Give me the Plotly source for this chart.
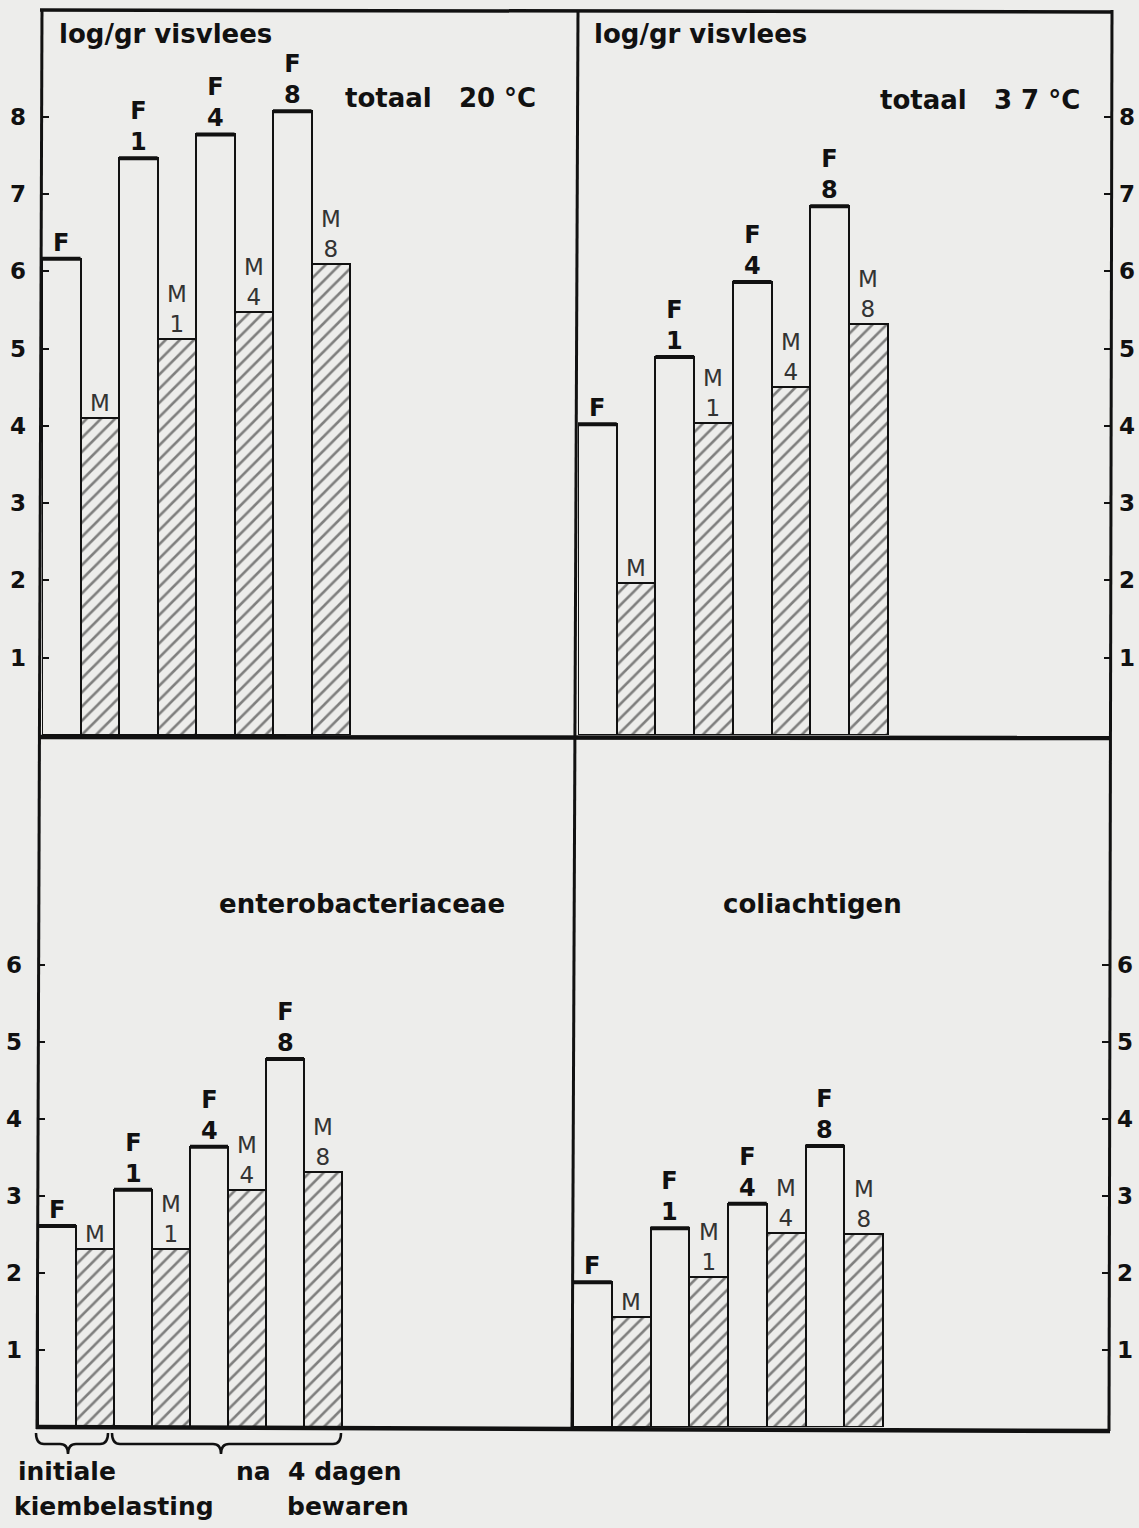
import plotly.graph_objects as go

# ---------------- data ----------------
bar_groups = ["F", "M", "F1", "M1", "F4", "M4", "F8", "M8"]
bar_labels = ["F", "M", "F<br>1", "M<br>1", "F<br>4", "M<br>4", "F<br>8", "M<br>8"]
totaal_20 = [6.16, 4.10, 7.46, 5.12, 7.77, 5.47, 8.07, 6.09]
totaal_37 = [4.02, 1.97, 4.89, 4.04, 5.86, 4.50, 6.84, 5.32]
enterobacteriaceae = [2.61, 2.31, 3.08, 2.31, 3.64, 3.08, 4.78, 3.31]
coliachtigen = [1.88, 1.43, 2.58, 1.95, 2.90, 2.52, 3.65, 2.51]
ticks_top = [1, 2, 3, 4, 5, 6, 7, 8]
ticks_bottom = [1, 2, 3, 4, 5, 6]
panel_titles = ["totaal   20 \u00b0C", "totaal   3 7 \u00b0C", "enterobacteriaceae", "coliachtigen"]
y_unit = "log/gr visvlees"

# ---------------- layout constants (pixels) ----------------
W, H = 1139, 1528
PAPER = "#ededeb"
INK = "#111111"
FONT = "DejaVu Sans"
PX_PER_UNIT_TOP = 77.3
PX_PER_UNIT_BOT = 77.0

def px(x):
    return x / W

def py(y):
    return 1 - y / H

panels = [
    # (values, x0, x1, ybottom, ytop, px per bar, px per unit, ticks, side)
    (totaal_20, 42, 578, 735, 11, 38.5, PX_PER_UNIT_TOP, ticks_top, "left"),
    (totaal_37, 578, 1111, 735, 11, 38.7, PX_PER_UNIT_TOP, ticks_top, "right"),
    (enterobacteriaceae, 38, 573, 1427, 737, 38.0, PX_PER_UNIT_BOT, ticks_bottom, "left"),
    (coliachtigen, 573, 1109, 1427, 737, 38.75, PX_PER_UNIT_BOT, ticks_bottom, "right"),
]

fig = go.Figure()
annotations = []

for k, (vals, x0, x1, yb, yt, bw, pu, tks, side) in enumerate(panels):
    n = k + 1
    xa = "x" if n == 1 else f"x{n}"
    ya = "y" if n == 1 else f"y{n}"
    f_idx = [i for i in range(len(vals)) if i % 2 == 0]
    m_idx = [i for i in range(len(vals)) if i % 2 == 1]

    fig.add_trace(go.Bar(
        x=f_idx, y=[vals[i] for i in f_idx], width=1,
        marker=dict(color=PAPER, line=dict(color=INK, width=2)),
        xaxis=xa, yaxis=ya, showlegend=False, hoverinfo="skip"))
    fig.add_trace(go.Bar(
        x=m_idx, y=[vals[i] for i in m_idx], width=1,
        marker=dict(color=PAPER, line=dict(color=INK, width=2),
                    pattern=dict(shape="/", fgcolor="#111111", bgcolor=PAPER,
                                 size=10, solidity=0.26)),
        xaxis=xa, yaxis=ya, showlegend=False, hoverinfo="skip"))
    # bold top edge of the F bars
    sx, sy = [], []
    for i in f_idx:
        sx += [i - 0.5, i + 0.5, None]
        sy += [vals[i], vals[i], None]
    fig.add_trace(go.Scatter(x=sx, y=sy, mode="lines",
                             line=dict(color=INK, width=4),
                             xaxis=xa, yaxis=ya, showlegend=False, hoverinfo="skip"))

    xr = [-0.5, -0.5 + (x1 - x0) / bw]
    yr = [0, (yb - yt) / pu]
    xkey = "xaxis" if n == 1 else f"xaxis{n}"
    ykey = "yaxis" if n == 1 else f"yaxis{n}"
    fig.layout[xkey] = dict(domain=[px(x0), px(x1)], range=xr, visible=False,
                            anchor=ya, fixedrange=True)
    fig.layout[ykey] = dict(domain=[py(yb), py(yt)], range=yr, anchor=xa,
                            side=side, showgrid=False, zeroline=False, showline=False,
                            ticks="inside", ticklen=7, tickwidth=2, tickcolor=INK,
                            tickvals=tks, ticktext=[str(t) for t in tks],
                            tickfont=dict(family=FONT, size=23, color=INK, weight="bold"),
                            ticklabelstandoff=15 if side == "left" else 7,
                            fixedrange=True)

    for i, v in enumerate(vals):
        is_f = i % 2 == 0
        annotations.append(dict(
            x=i, y=v, xref=xa, yref=ya, text=bar_labels[i], showarrow=False,
            xanchor="center", yanchor="bottom", yshift=0,
            font=dict(family=FONT, size=24 if is_f else 23,
                      color=INK if is_f else "#333333",
                      weight="bold" if is_f else "normal")))

# panel texts
annotations += [
    dict(x=px(57), y=py(34), text=y_unit, xanchor="left", yanchor="middle"),
    dict(x=px(592), y=py(34), text=y_unit, xanchor="left", yanchor="middle"),
    dict(x=px(440), y=py(98), text=panel_titles[0], xanchor="center", yanchor="middle"),
    dict(x=px(980), y=py(100), text=panel_titles[1], xanchor="center", yanchor="middle"),
    dict(x=px(362), y=py(904), text=panel_titles[2], xanchor="center", yanchor="middle"),
    dict(x=px(812), y=py(904), text=panel_titles[3], xanchor="center", yanchor="middle"),
    dict(x=px(16), y=py(1471), text="initiale", xanchor="left", yanchor="middle"),
    dict(x=px(12), y=py(1506), text="kiembelasting", xanchor="left", yanchor="middle"),
    dict(x=px(234), y=py(1471), text="na  4 dagen", xanchor="left", yanchor="middle"),
    dict(x=px(285), y=py(1506), text="bewaren", xanchor="left", yanchor="middle"),
]
for j, a in enumerate(annotations[-10:]):
    a.update(xref="paper", yref="paper", showarrow=False,
             font=dict(family=FONT, size=26 if j < 6 else 25, color=INK, weight="bold"))

# frame lines (paper coordinates)
def line(xa_, ya_, xb_, yb_, w):
    return dict(type="line", xref="paper", yref="paper",
                x0=px(xa_), y0=py(ya_), x1=px(xb_), y1=py(yb_),
                line=dict(color=INK, width=w), layer="above")

shapes = [
    line(40, 10, 1112, 12, 3.5),      # top
    line(42, 9, 37, 1429, 3),         # left
    line(1112, 10, 1109, 1431, 3),    # right
    line(578, 10, 572, 1429, 3),      # divider
    line(40, 737, 1111, 738, 4.5),    # middle
    line(36, 1427, 1110, 1431, 4.5),  # bottom
]

def brace(xa_, xb_, tip, ytop, ymid, ytip, r=8):
    pts = (f"M {px(xa_)},{py(ytop)} Q {px(xa_)},{py(ymid)} {px(xa_ + r)},{py(ymid)} "
           f"L {px(tip - r)},{py(ymid)} Q {px(tip)},{py(ymid)} {px(tip)},{py(ytip)} "
           f"Q {px(tip)},{py(ymid)} {px(tip + r)},{py(ymid)} "
           f"L {px(xb_ - r)},{py(ymid)} Q {px(xb_)},{py(ymid)} {px(xb_)},{py(ytop)}")
    return dict(type="path", xref="paper", yref="paper", path=pts,
                line=dict(color=INK, width=2.5))

shapes += [brace(36, 108, 68, 1433, 1444, 1454),
           brace(112, 341, 221, 1433, 1444, 1454)]

fig.update_layout(
    width=W, height=H,
    margin=dict(l=0, r=0, t=0, b=0),
    paper_bgcolor=PAPER, plot_bgcolor="rgba(0,0,0,0)",
    barmode="overlay", bargap=0,
    annotations=annotations, shapes=shapes,
    showlegend=False,
    font=dict(family=FONT, color=INK),
)

fig.write_html(
    "out.html",
    config={"displayModeBar": False},
    post_script="document.body.style.margin='0';document.body.style.padding='0';"
                "document.body.style.background='" + PAPER + "';"
                "document.documentElement.style.overflow='hidden';",
)
